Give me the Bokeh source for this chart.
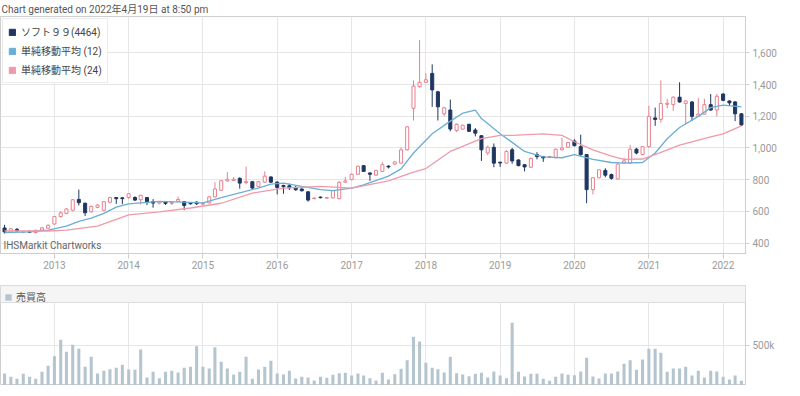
import pandas as pd
from bokeh.plotting import figure
from bokeh.layouts import column
from bokeh.models import (ColumnDataSource, Range1d, FixedTicker, NumeralTickFormatter,
                          CustomJSTickFormatter, Legend, LegendItem, BoxAnnotation, Label)
from bokeh.embed import file_html
from bokeh.resources import INLINE

# ---------------- data (monthly, May 2012 - Apr 2022) ----------------
first_month = "2012-05-01"
opens = [495, 470, 486, 468, 474, 466, 482, 494, 520, 567, 587, 607, 675, 651, 597, 625, 607, 657, 687, 685,
         687, 687, 673, 687, 660, 652, 661, 650, 663, 661, 655, 658, 645, 653, 691, 733, 792, 795, 808, 781,
         787, 757, 784, 817, 784, 763, 761, 751, 741, 723, 680, 690, 683, 685, 680, 784, 800, 834, 888, 842,
         828, 852, 885, 898, 904, 988, 1250, 1386, 1414, 1470, 1354, 1215, 1239, 1109, 1119, 1149, 1113, 1077, 968, 1004,
         910, 904, 988, 924, 894, 878, 958, 945, 940, 938, 988, 1004, 1043, 1008, 958, 737, 812, 858, 832, 804,
         904, 904, 992, 958, 1008, 1189, 1180, 1275, 1273, 1320, 1280, 1290, 1199, 1213, 1273, 1239, 1340, 1296, 1290, 1215]
highs = [515, 495, 495, 475, 478, 485, 500, 518, 572, 600, 620, 678, 737, 655, 636, 645, 665, 692, 690, 688,
         715, 695, 705, 690, 677, 665, 665, 660, 693, 665, 658, 662, 652, 695, 784, 797, 848, 816, 815, 882,
         790, 792, 852, 820, 790, 768, 775, 760, 745, 728, 688, 693, 690, 735, 790, 817, 838, 888, 892, 845,
         862, 910, 890, 916, 1004, 1138, 1425, 1681, 1470, 1527, 1360, 1260, 1305, 1155, 1148, 1152, 1125, 1080, 1015, 1028,
         912, 985, 1000, 928, 898, 938, 973, 950, 950, 996, 1064, 1038, 1055, 1083, 960, 815, 866, 872, 838, 902,
         938, 1018, 1000, 1012, 1266, 1254, 1426, 1308, 1325, 1414, 1300, 1295, 1314, 1310, 1340, 1340, 1345, 1300, 1295, 1220]
lows = [460, 465, 470, 462, 465, 460, 478, 490, 515, 560, 582, 600, 637, 571, 590, 620, 600, 650, 647, 645,
        680, 665, 643, 640, 623, 645, 640, 640, 658, 607, 642, 640, 640, 650, 688, 730, 785, 790, 743, 770,
        740, 752, 780, 780, 707, 711, 735, 730, 725, 661, 676, 682, 680, 682, 675, 780, 796, 830, 848, 792,
        824, 848, 870, 893, 900, 984, 1173, 1380, 1410, 1259, 1173, 1200, 1105, 1100, 1115, 1100, 1073, 918, 955, 878,
        880, 900, 900, 885, 852, 874, 928, 912, 938, 935, 985, 1000, 1010, 950, 651, 707, 808, 815, 800, 800,
        900, 900, 960, 955, 1000, 1139, 1159, 1250, 1233, 1285, 1149, 1169, 1195, 1210, 1235, 1199, 1295, 1265, 1169, 1140]
closes = [470, 490, 476, 472, 468, 480, 496, 512, 567, 591, 615, 673, 655, 591, 631, 640, 661, 687, 680, 680,
          711, 671, 701, 657, 652, 660, 650, 656, 675, 637, 648, 648, 650, 691, 741, 793, 802, 802, 778, 787,
          747, 787, 822, 784, 751, 755, 748, 736, 730, 671, 684, 686, 687, 731, 783, 792, 834, 884, 852, 834,
          858, 894, 880, 912, 988, 1133, 1390, 1414, 1430, 1366, 1259, 1253, 1119, 1149, 1143, 1105, 1093, 988, 1004, 904,
          905, 978, 918, 888, 880, 934, 945, 937, 946, 992, 1000, 1034, 1014, 958, 737, 812, 862, 828, 808, 898,
          918, 992, 968, 1008, 1199, 1180, 1280, 1282, 1320, 1290, 1296, 1199, 1213, 1273, 1239, 1326, 1300, 1284, 1215, 1145]
volume_k = [150, 108, 83, 146, 108, 83, 171, 246, 367, 571, 421, 508, 458, 233, 358, 150, 183, 204, 221, 258,
            200, 196, 450, 100, 171, 92, 171, 183, 163, 221, 233, 492, 233, 213, 479, 296, 213, 138, 171, 358,
            83, 200, 233, 308, 150, 138, 183, 88, 108, 100, 63, 108, 96, 133, 154, 158, 125, 150, 125, 92,
            63, 158, 75, 142, 208, 317, 608, 550, 283, 221, 204, 163, 358, 154, 138, 117, 146, 158, 100, 175,
            125, 92, 783, 171, 113, 146, 146, 83, 58, 108, 150, 133, 129, 175, 346, 113, 88, 150, 150, 175,
            271, 317, 196, 325, 458, 458, 408, 171, 213, 213, 233, 125, 183, 100, 183, 175, 108, 75, 125, 58]

ma12_dates = ["2012-05-01", "2012-09-01", "2012-12-01", "2013-03-01", "2013-05-01", "2013-07-01", "2013-09-01",
              "2013-11-01", "2014-01-01", "2014-06-01", "2014-11-01", "2015-01-01", "2015-04-01", "2015-10-01",
              "2015-12-01", "2016-02-01", "2016-05-01", "2016-08-01", "2016-10-01", "2017-01-01", "2017-03-01",
              "2017-07-01", "2017-09-01", "2017-11-01", "2018-02-01", "2018-05-01", "2018-07-01", "2018-09-01",
              "2018-10-01", "2019-01-01", "2019-03-01", "2019-05-01", "2019-08-01", "2019-11-01", "2020-01-01",
              "2020-04-01", "2020-07-01", "2020-09-01", "2020-12-01", "2021-02-01", "2021-04-01", "2021-06-01",
              "2021-09-01", "2021-11-01", "2022-01-01", "2022-04-01"]
ma12_values = [466, 470, 482, 507, 537, 557, 587, 627, 647, 663, 657, 653, 687, 747, 772, 778, 757, 737, 731, 747,
               767, 822, 868, 968, 1089, 1169, 1219, 1239, 1185, 1089, 1035, 978, 944, 938, 958, 928, 908, 904,
               908, 968, 1058, 1129, 1199, 1254, 1270, 1259]
ma24_dates = ["2012-05-01", "2012-12-01", "2013-03-01", "2013-08-01", "2014-01-01", "2014-06-01", "2014-11-01",
              "2015-04-01", "2015-09-01", "2016-02-01", "2016-08-01", "2017-01-01", "2017-07-01", "2017-11-01",
              "2018-01-01", "2018-05-01", "2018-10-01", "2019-01-01", "2019-03-01", "2019-08-01", "2019-11-01",
              "2020-01-01", "2020-04-01", "2020-07-01", "2020-09-01", "2020-12-01", "2021-03-01", "2021-06-01",
              "2021-09-01", "2021-11-01", "2022-01-01", "2022-04-01"]
ma24_values = [476, 476, 482, 507, 577, 597, 621, 651, 715, 747, 757, 747, 792, 848, 870, 978, 1058, 1079, 1079,
               1089, 1079, 1039, 988, 948, 928, 930, 972, 1018, 1049, 1069, 1089, 1139]

year_labels = [2013, 2014, 2015, 2016, 2017, 2018, 2019, 2020, 2021, 2022]
price_ticks = [400, 600, 800, 1000, 1200, 1400, 1600]
volume_ticks = [500000]

title_text = "Chart generated on 2022年4月19日 at 8:50 pm"
series_labels = ["ソフト９９(4464)", "単純移動平均 (12)", "単純移動平均 (24)"]
volume_label = "売買高"
credit_text = "IHSMarkit Chartworks"

# ---------------- styling ----------------
FONT = "Roboto, 'Noto Sans CJK JP', sans-serif"
UP = "#e8808e"
DOWN = "#1f3661"
MA12_C = "#6aaed6"
MA24_C = "#ef9aa8"
VOL_C = "#b5c5cf"
GRID = "#e6e6e6"
EDGE = "#cfcfcf"
TICK_LBL = "#9a9a9a"
NAN = float("nan")

dates = pd.date_range(start=first_month, periods=len(closes), freq="MS")
day_ms = 24 * 3600 * 1000
year_ms = [pd.Timestamp(f"{y}-01-01").value // 10**6 for y in year_labels]

up_idx = [i for i in range(len(closes)) if closes[i] >= opens[i]]
dn_idx = [i for i in range(len(closes)) if closes[i] < opens[i]]


def src(idx):
    return ColumnDataSource(dict(
        date=[dates[i] for i in idx],
        high=[highs[i] for i in idx],
        low=[lows[i] for i in idx],
        top=[max(opens[i], closes[i]) for i in idx],
        bottom=[min(opens[i], closes[i]) for i in idx],
    ))


up_src, dn_src = src(up_idx), src(dn_idx)

xr = Range1d(pd.Timestamp("2012-04-11"), pd.Timestamp("2022-04-21"))

p = figure(x_axis_type="datetime", y_axis_location="right", x_range=xr, y_range=Range1d(334, 1829),
           frame_width=745, frame_height=237, min_border_left=0, min_border_right=39,
           min_border_top=0, min_border_bottom=26, output_backend="svg", toolbar_location=None,
           title=title_text, background_fill_color="white", border_fill_color="white")
p.title.text_font = FONT
p.title.text_font_size = "10px"
p.title.text_font_style = "normal"
p.title.text_color = "#555555"
p.title.standoff = 3
p.title.offset = 1
p.outline_line_color = EDGE

p.segment(x0="date", y0="low", x1="date", y1="high", source=up_src, line_color=UP, line_width=1)
r_up = p.vbar(x="date", width=15 * day_ms, top="top", bottom="bottom", source=up_src,
              fill_color="white", line_color=UP, line_width=1)
p.segment(x0="date", y0="low", x1="date", y1="high", source=dn_src, line_color=DOWN, line_width=1)
r_dn = p.vbar(x="date", width=15 * day_ms, top="top", bottom="bottom", source=dn_src,
              fill_color=DOWN, line_color=DOWN, line_width=1)
r12 = p.line(x=pd.to_datetime(ma12_dates), y=ma12_values, line_color=MA12_C, line_width=1.3)
r24 = p.line(x=pd.to_datetime(ma24_dates), y=ma24_values, line_color=MA24_C, line_width=1.3)

# legend swatches (no visible data; they only give square legend glyphs)
sw_candle_a = p.vbar(x=[dates[0]], width=1, top=[NAN], bottom=[NAN], fill_color=UP, line_color=UP)
sw_candle_b = p.vbar(x=[dates[0]], width=1, top=[NAN], bottom=[NAN], fill_color=DOWN, line_color=DOWN)
sw12 = p.vbar(x=[dates[0]], width=1, top=[NAN], bottom=[NAN], fill_color=MA12_C, line_color=MA12_C)
sw24 = p.vbar(x=[dates[0]], width=1, top=[NAN], bottom=[NAN], fill_color=MA24_C, line_color=MA24_C)

year_fmt = CustomJSTickFormatter(code="return String(new Date(tick).getUTCFullYear());")
xa = p.xaxis[0]
xa.ticker = FixedTicker(ticks=year_ms)
xa.formatter = year_fmt
xa.major_label_text_align = "left"
xa.major_label_standoff = 2
xa.major_tick_out = 5
xa.major_tick_in = 0
xa.minor_tick_line_color = None
xa.axis_line_color = EDGE
xa.major_tick_line_color = EDGE
xa.major_label_text_font = FONT
xa.major_label_text_font_size = "10px"
xa.major_label_text_color = TICK_LBL

ya = p.yaxis[0]
ya.ticker = FixedTicker(ticks=price_ticks)
ya.formatter = NumeralTickFormatter(format="0,0")
ya.major_tick_out = 4
ya.major_tick_in = 0
ya.minor_tick_line_color = None
ya.axis_line_color = EDGE
ya.major_tick_line_color = EDGE
ya.major_label_standoff = 3
ya.major_label_text_font = FONT
ya.major_label_text_font_size = "10px"
ya.major_label_text_color = TICK_LBL

p.xgrid.grid_line_color = GRID
p.ygrid.grid_line_color = GRID

legend = Legend(items=[LegendItem(label=series_labels[0], renderers=[sw_candle_b]),
                       LegendItem(label=series_labels[1], renderers=[sw12]),
                       LegendItem(label=series_labels[2], renderers=[sw24])],
                location="top_left", margin=2, padding=5, spacing=4, label_height=14,
                glyph_height=8, glyph_width=8, label_standoff=5,
                border_line_color="#d8d8d8", background_fill_color="white", background_fill_alpha=0.85,
                label_text_font=FONT, label_text_font_size="10px", label_text_color="#444444")
p.add_layout(legend)

p.add_layout(Label(x=3, y=3, x_units="screen", y_units="screen", text=credit_text,
                   text_font=FONT, text_font_size="10px", text_color="#666666"))

# ---------------- volume panel ----------------
p2 = figure(x_axis_type="datetime", y_axis_location="right", x_range=xr, y_range=Range1d(0, 1250000),
            frame_width=745, frame_height=100, min_border_left=0, min_border_right=39,
            min_border_top=6, min_border_bottom=0, output_backend="svg", toolbar_location=None,
            background_fill_color="white", border_fill_color="white")
p2.outline_line_color = EDGE
vol_src = ColumnDataSource(dict(date=list(dates), vol=[v * 1000 for v in volume_k]))
r_vol = p2.vbar(x="date", width=15 * day_ms, top="vol", bottom=0, source=vol_src,
                fill_color=VOL_C, line_color=None)
p2.xaxis.visible = False
p2.xaxis[0].ticker = FixedTicker(ticks=year_ms)
p2.xgrid.grid_line_color = GRID
p2.ygrid.grid_line_color = GRID
ya2 = p2.yaxis[0]
ya2.ticker = FixedTicker(ticks=volume_ticks)
ya2.formatter = NumeralTickFormatter(format="0a")
ya2.major_tick_out = 4
ya2.major_tick_in = 0
ya2.minor_tick_line_color = None
ya2.axis_line_color = EDGE
ya2.major_tick_line_color = EDGE
ya2.major_label_standoff = 3
ya2.major_label_text_font = FONT
ya2.major_label_text_font_size = "10px"
ya2.major_label_text_color = TICK_LBL

p2.add_layout(BoxAnnotation(bottom=1037000, fill_color="#f5f5f5", fill_alpha=1,
                            line_color="#dcdcdc", line_alpha=1, line_width=1))
vleg = Legend(items=[LegendItem(label=volume_label, renderers=[r_vol])], location="top_left",
              margin=2, padding=2, label_height=12, glyph_height=8, glyph_width=8, label_standoff=4,
              border_line_alpha=0, background_fill_alpha=0,
              label_text_font=FONT, label_text_font_size="10px", label_text_color="#555555")
p2.add_layout(vleg)

layout = column(p, p2, spacing=0)
open("out.html", "w").write(file_html(layout, INLINE, title="chart"))
